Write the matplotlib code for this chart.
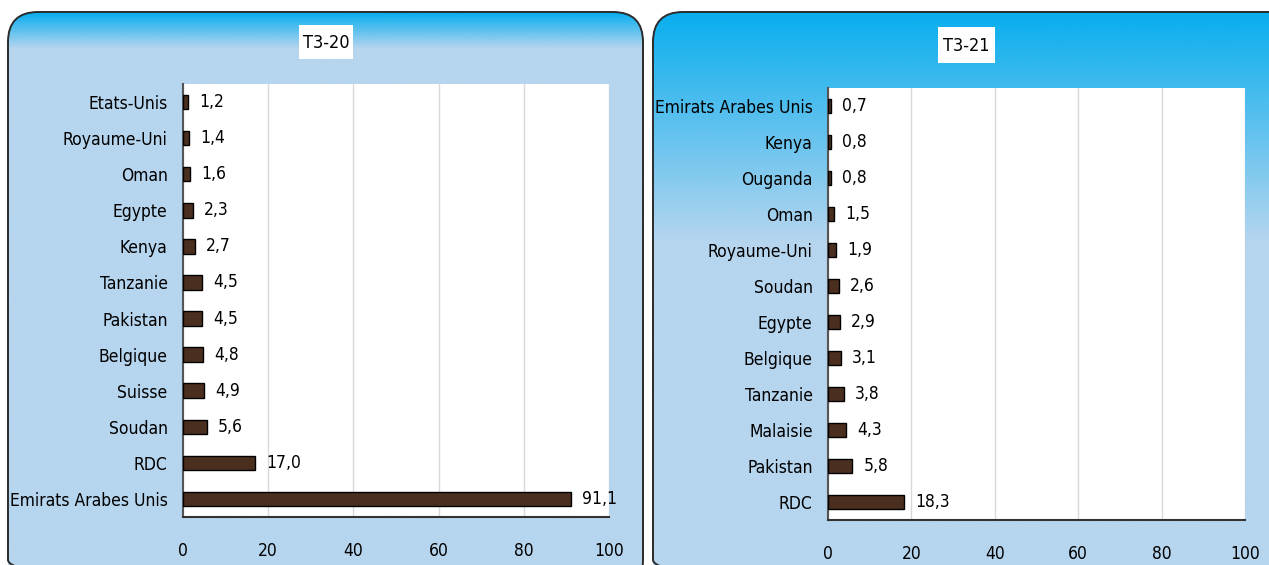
import numpy as np
import matplotlib
matplotlib.use("Agg")
import matplotlib.pyplot as plt
from matplotlib import font_manager as fm
from matplotlib.patches import FancyBboxPatch, Rectangle
from matplotlib.colors import LinearSegmentedColormap

# look for a narrow font, else Liberation Sans
narrow = None
for f in fm.fontManager.ttflist:
    nm = (f.name + ' ' + f.fname).lower()
    if ('condensed' in nm or 'narrow' in nm or f.stretch in ('condensed', 'semi-condensed')) \
            and 'bold' not in nm and 'italic' not in nm and 'oblique' not in nm and f.weight in (400, 'normal', 'regular'):
        narrow = f
        break
if narrow is not None:
    fm.fontManager.addfont(narrow.fname)
    plt.rcParams['font.family'] = [narrow.name, 'DejaVu Sans']
    plt.rcParams['font.stretch'] = narrow.stretch
    fs = 12.5
else:
    plt.rcParams['font.family'] = ['Liberation Sans', 'DejaVu Sans']
    fs = 11.5

# data
pays_t320 = ['Etats-Unis', 'Royaume-Uni', 'Oman', 'Egypte', 'Kenya', 'Tanzanie',
             'Pakistan', 'Belgique', 'Suisse', 'Soudan', 'RDC', 'Emirats Arabes Unis']
val_t320 = [1.2, 1.4, 1.6, 2.3, 2.7, 4.5, 4.5, 4.8, 4.9, 5.6, 17.0, 91.1]

pays_t321 = ['Emirats Arabes Unis', 'Kenya', 'Ouganda', 'Oman', 'Royaume-Uni', 'Soudan',
             'Egypte', 'Belgique', 'Tanzanie', 'Malaisie', 'Pakistan', 'RDC']
val_t321 = [0.7, 0.8, 0.8, 1.5, 1.9, 2.6, 2.9, 3.1, 3.8, 4.3, 5.8, 18.3]

ticks = [0, 20, 40, 60, 80, 100]

W, H = 1269, 565
fig = plt.figure(figsize=(W / 100, H / 100), dpi=100)
fig.patch.set_facecolor('white')

# background layer in pixel coords
bg = fig.add_axes([0, 0, 1, 1])
bg.set_xlim(0, W)
bg.set_ylim(H, 0)
bg.axis('off')

cmap = LinearSegmentedColormap.from_list('bleu', ['#08AEEE', '#B6D5EE'])


def panneau(x0, x1, y0, y1, fade):
    box = FancyBboxPatch((x0, y0), x1 - x0, y1 - y0, boxstyle='round,pad=0,rounding_size=30',
                         facecolor='none', edgecolor='#2b2b2b', lw=1.4, zorder=3)
    bg.add_patch(box)
    ys = np.linspace(y0, y1, 400)
    g = np.clip((ys - y0) / fade, 0, 1)[:, None]
    im = bg.imshow(g, cmap=cmap, vmin=0, vmax=1, aspect='auto',
                   extent=(x0, x1, y1, y0), zorder=1)
    im.set_clip_path(box)


panneau(8, 643, 12, 590, 36)
panneau(653, 1300, 12, 590, 230)

# title boxes
for (tx0, tx1, ty0, ty1, txt) in [(299, 353, 25, 59, 'T3-20'), (938, 995, 27, 63, 'T3-21')]:
    bg.add_patch(Rectangle((tx0, ty0), tx1 - tx0, ty1 - ty0, facecolor='white', edgecolor='none', zorder=4))
    bg.text((tx0 + tx1) / 2, (ty0 + ty1) / 2 + 1, txt, ha='center', va='center', fontsize=13, zorder=5)


def graphe(rect, pays, vals):
    ax = fig.add_axes(rect)
    y = np.arange(len(pays))[::-1]
    ax.barh(y, vals, height=0.4, color='#4a2f1f', edgecolor='black', lw=1, zorder=3)
    for yi, v in zip(y, vals):
        ax.annotate(f'{v:.1f}'.replace('.', ','), (v, yi), xytext=(8, 0), textcoords='offset points',
                    va='center', ha='left', fontsize=fs)
    ax.set_yticks(y)
    ax.set_yticklabels(pays, fontsize=fs)
    ax.set_xlim(0, 100)
    ax.set_ylim(-0.5, len(pays) - 0.5)
    ax.set_xticks(ticks)
    ax.set_xticklabels([str(t) for t in ticks], fontsize=fs)
    ax.tick_params(length=0)
    ax.tick_params(axis='y', pad=11)
    ax.tick_params(axis='x', pad=18)
    ax.grid(axis='x', color='#d9d9d9', lw=1, zorder=0)
    for s in ['top', 'right']:
        ax.spines[s].set_visible(False)
    ax.spines['left'].set_color('#555555')
    ax.spines['bottom'].set_color('#333333')
    ax.spines['left'].set_linewidth(1.5)
    ax.spines['bottom'].set_linewidth(1.5)
    ax.set_facecolor('white')
    return ax


def px(x0, x1, y0, y1):
    return [x0 / W, 1 - y1 / H, (x1 - x0) / W, (y1 - y0) / H]


graphe(px(183, 609, 84, 517), pays_t320, val_t320)
graphe(px(828, 1245, 88, 520), pays_t321, val_t321)

fig.savefig('out.png', dpi=100)
